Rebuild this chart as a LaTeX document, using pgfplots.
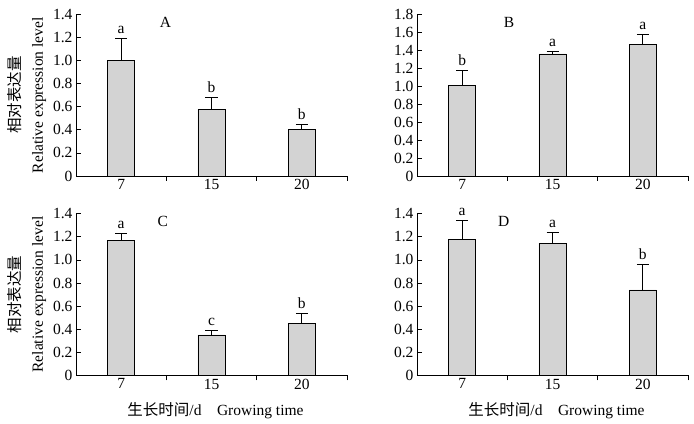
\documentclass[border=0pt]{standalone}
\usepackage{pgfplots}
\pgfplotsset{compat=1.18}
\usepackage{fontspec}
\setmainfont{Liberation Serif}
\newfontfamily\cjk{Noto Sans CJK SC}
\definecolor{barfill}{RGB}{211,211,211}
\newcommand{\lab}[3]{\node[anchor=base, yshift=5bp, font=\fontsize{15.5bp}{17bp}\selectfont] at (axis cs:#1,#2) {#3};}
\pgfplotsset{
  panel/.style={
    scale only axis, width=271bp, height=161.5bp,
    anchor=south west,
    axis x line*=bottom, axis y line*=left,
    xmin=-0.5, xmax=2.5, ymin=0,
    xtick={0.5,1.5,2.5}, xticklabels={},
    extra x ticks={0,1,2}, extra x tick labels={7,15,20},
    extra x tick style={major tick length=0pt},
    tick align=inside, major tick length=5bp,
    tick style={black, line width=0.8bp},
    axis line style={line width=0.8bp},
    tick label style={font=\fontsize{15.5bp}{17bp}\selectfont},
    label style={font=\fontsize{15.5bp}{22bp}\selectfont},
    ybar, bar width=0.3,
    clip=false,
  },
  bars/.style={fill=barfill, draw=black, line width=0.8bp,
    error bars/.cd, y dir=plus, y explicit,
    error bar style={black, line width=0.8bp},
    error mark options={black, rotate=90, mark size=6bp, line width=0.8bp}},
  ylab/.style={ylabel={{\cjk 相对表达量}\\Relative expression level},
    ylabel style={align=center}},
  xlab/.style={xlabel={{\cjk 生长时间}/d\quad Growing time},
    xlabel style={xshift=4bp, yshift=-1bp}},
  y14/.style={ymax=1.4, ytick={0,0.2,0.4,0.6,0.8,1.0,1.2,1.4},
    yticklabels={0,0.2,0.4,0.6,0.8,1.0,1.2,1.4}},
  y18/.style={ymax=1.8, ytick={0,0.2,0.4,0.6,0.8,1.0,1.2,1.4,1.6,1.8},
    yticklabels={0,0.2,0.4,0.6,0.8,1.0,1.2,1.4,1.6,1.8}},
}
\begin{document}
\begin{tikzpicture}
\useasboundingbox (0,0) rectangle (694bp,424bp);
% A
\begin{axis}[panel, y14, ylab, at={(76bp,248bp)}]
\addplot[bars] coordinates {(0,1.00) +- (0,0.19) (1,0.58) +- (0,0.10) (2,0.40) +- (0,0.045)};
\lab{0}{1.19}{a}\lab{1}{0.68}{b}\lab{2}{0.445}{b}
\node[font=\fontsize{15.5bp}{17bp}\selectfont] at (rel axis cs:0.33,0.95) {A};
\end{axis}
% B
\begin{axis}[panel, y18, at={(417bp,248bp)}]
\addplot[bars] coordinates {(0,1.01) +- (0,0.17) (1,1.36) +- (0,0.03) (2,1.47) +- (0,0.11)};
\lab{0}{1.18}{b}\lab{1}{1.39}{a}\lab{2}{1.58}{a}
\node[font=\fontsize{15.5bp}{17bp}\selectfont] at (rel axis cs:0.34,0.95) {B};
\end{axis}
% C
\begin{axis}[panel, y14, ylab, xlab, at={(76bp,48.7bp)}]
\addplot[bars] coordinates {(0,1.17) +- (0,0.06) (1,0.35) +- (0,0.035) (2,0.45) +- (0,0.09)};
\lab{0}{1.23}{a}\lab{1}{0.385}{c}\lab{2}{0.54}{b}
\node[font=\fontsize{15.5bp}{17bp}\selectfont] at (rel axis cs:0.32,0.95) {C};
\end{axis}
% D
\begin{axis}[panel, y14, xlab, at={(417bp,48.7bp)}]
\addplot[bars] coordinates {(0,1.18) +- (0,0.16) (1,1.145) +- (0,0.09) (2,0.74) +- (0,0.22)};
\lab{0}{1.34}{a}\lab{1}{1.235}{a}\lab{2}{0.96}{b}
\node[font=\fontsize{15.5bp}{17bp}\selectfont] at (rel axis cs:0.32,0.95) {D};
\end{axis}
\end{tikzpicture}
\end{document}
